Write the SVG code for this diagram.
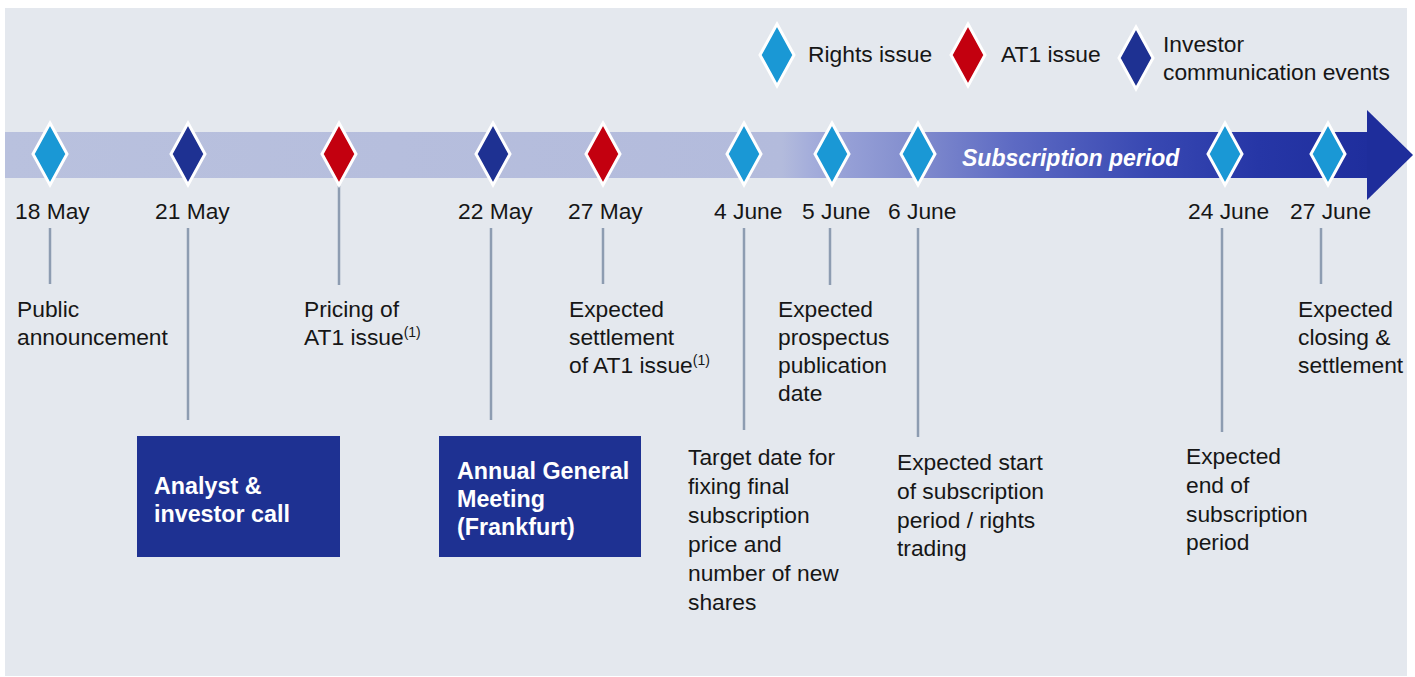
<svg xmlns="http://www.w3.org/2000/svg" width="1415" height="677" viewBox="0 0 1415 677">
<defs>
<style>
.t{font-family:"Liberation Sans",Arial,sans-serif;font-size:22.8px;fill:#161616}
.b{font-family:"Liberation Sans",Arial,sans-serif;font-size:23.3px;font-weight:bold;fill:#ffffff}
.sup{font-size:14px}
.ln{stroke:#8d9cb1;stroke-width:2.5}
.dl{stroke:#ffffff;stroke-width:3;stroke-linejoin:miter}
.ri{fill:#1a98d5}
.at{fill:#c3000f}
.iv{fill:#1e3192}
.box{fill:#1e3192}
</style>
<linearGradient id="band" x1="5" y1="0" x2="1368" y2="0" gradientUnits="userSpaceOnUse">
<stop offset="0" stop-color="#b9c1de"/>
<stop offset="0.57" stop-color="#b3bbdc"/>
<stop offset="0.59" stop-color="#a5aedb"/>
<stop offset="0.62" stop-color="#959fd6"/>
<stop offset="0.66" stop-color="#8590cf"/>
<stop offset="0.74" stop-color="#5d6ac3"/>
<stop offset="0.84" stop-color="#3848b2"/>
<stop offset="0.92" stop-color="#2636a6"/>
<stop offset="1" stop-color="#1f2e9d"/>
</linearGradient>
<path id="dm" d="M0,-31 L17,0 L0,31 L-17,0 Z"/>
</defs>
<rect x="0" y="0" width="1415" height="677" fill="#ffffff"/>
<rect x="5" y="8" width="1402" height="668" fill="#e4e8ee"/>

<g id="timeline-arrow">
<rect x="5" y="132" width="1364" height="46" fill="url(#band)"/>
<polygon points="1367,110 1413,155 1367,200" fill="#1e2d9b"/>
<text x="962" y="166" font-family="Liberation Sans,Arial,sans-serif" font-size="23" font-weight="bold" font-style="italic" fill="#ffffff">Subscription period</text>
</g>

<g id="legend">
<use href="#dm" x="777" y="55" class="ri dl"/>
<text x="808" y="62" class="t">Rights issue</text>
<use href="#dm" x="968" y="55" class="at dl"/>
<text x="1001" y="62" class="t">AT1 issue</text>
<use href="#dm" x="1136" y="58" class="iv dl"/>
<text x="1163" y="52" class="t">Investor</text>
<text x="1163" y="80" class="t">communication events</text>
</g>

<g id="connectors">
<line x1="50" y1="228" x2="50" y2="284" class="ln"/>
<line x1="188" y1="228" x2="188" y2="420" class="ln"/>
<line x1="339" y1="186" x2="339" y2="285" class="ln"/>
<line x1="491" y1="228" x2="491" y2="420" class="ln"/>
<line x1="603" y1="228" x2="603" y2="284" class="ln"/>
<line x1="744" y1="228" x2="744" y2="430" class="ln"/>
<line x1="830" y1="228" x2="830" y2="285" class="ln"/>
<line x1="918" y1="228" x2="918" y2="437" class="ln"/>
<line x1="1222" y1="228" x2="1222" y2="432" class="ln"/>
<line x1="1321" y1="228" x2="1321" y2="284" class="ln"/>
</g>

<g id="ev-18may">
<use href="#dm" x="50" y="154" class="ri dl"/>
<text x="15" y="219" class="t">18 May</text>
<text x="17" y="317" class="t">Public</text>
<text x="17" y="345" class="t">announcement</text>
</g>

<g id="ev-21may">
<use href="#dm" x="188" y="154" class="iv dl"/>
<text x="155" y="219" class="t">21 May</text>
<rect x="137" y="436" width="203" height="121" class="box"/>
<text x="154" y="494" class="b">Analyst &amp;</text>
<text x="154" y="522" class="b">investor call</text>
</g>

<g id="ev-pricing">
<use href="#dm" x="339" y="154" class="at dl"/>
<text x="304" y="317" class="t">Pricing of</text>
<text x="304" y="345" class="t">AT1 issue<tspan class="sup" dy="-8">(1)</tspan></text>
</g>

<g id="ev-22may">
<use href="#dm" x="493" y="154" class="iv dl"/>
<text x="458" y="219" class="t">22 May</text>
<rect x="439" y="436" width="202" height="121" class="box"/>
<text x="457" y="479" class="b">Annual General</text>
<text x="457" y="507" class="b">Meeting</text>
<text x="457" y="535" class="b">(Frankfurt)</text>
</g>

<g id="ev-27may">
<use href="#dm" x="603" y="154" class="at dl"/>
<text x="568" y="219" class="t">27 May</text>
<text x="569" y="317" class="t">Expected</text>
<text x="569" y="345" class="t">settlement</text>
<text x="569" y="373" class="t">of AT1 issue<tspan class="sup" dy="-8">(1)</tspan></text>
</g>

<g id="ev-4june">
<use href="#dm" x="744" y="154" class="ri dl"/>
<text x="714" y="219" class="t">4 June</text>
<text x="688" y="465" class="t">Target date for</text>
<text x="688" y="494" class="t">fixing final</text>
<text x="688" y="523" class="t">subscription</text>
<text x="688" y="552" class="t">price and</text>
<text x="688" y="581" class="t">number of new</text>
<text x="688" y="610" class="t">shares</text>
</g>

<g id="ev-5june">
<use href="#dm" x="832" y="154" class="ri dl"/>
<text x="802" y="219" class="t">5 June</text>
<text x="778" y="317" class="t">Expected</text>
<text x="778" y="345" class="t">prospectus</text>
<text x="778" y="373" class="t">publication</text>
<text x="778" y="401" class="t">date</text>
</g>

<g id="ev-6june">
<use href="#dm" x="918" y="154" class="ri dl"/>
<text x="888" y="219" class="t">6 June</text>
<text x="897" y="470" class="t">Expected start</text>
<text x="897" y="499" class="t">of subscription</text>
<text x="897" y="528" class="t">period / rights</text>
<text x="897" y="556" class="t">trading</text>
</g>

<g id="ev-24june">
<use href="#dm" x="1225" y="154" class="ri dl"/>
<text x="1188" y="219" class="t">24 June</text>
<text x="1186" y="464" class="t">Expected</text>
<text x="1186" y="493" class="t">end of</text>
<text x="1186" y="522" class="t">subscription</text>
<text x="1186" y="550" class="t">period</text>
</g>

<g id="ev-27june">
<use href="#dm" x="1328" y="154" class="ri dl"/>
<text x="1290" y="219" class="t">27 June</text>
<text x="1298" y="317" class="t">Expected</text>
<text x="1298" y="345" class="t">closing &amp;</text>
<text x="1298" y="373" class="t">settlement</text>
</g>
</svg>
